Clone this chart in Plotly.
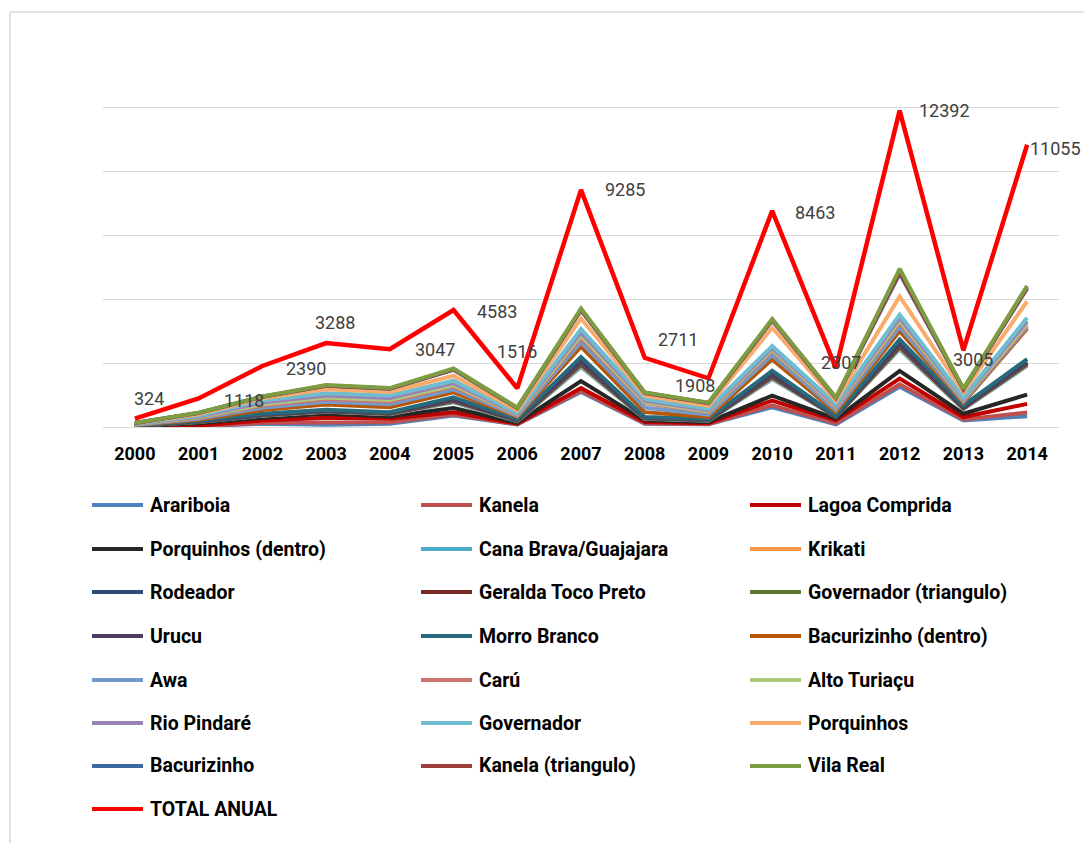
import plotly.graph_objects as go

# Years on the category axis
years = [str(y) for y in range(2000, 2015)]

# Series names, in stacking order (bottom to top)
names = [
    "Arariboia", "Kanela", "Lagoa Comprida",
    "Porquinhos (dentro)", "Cana Brava/Guajajara", "Krikati",
    "Rodeador", "Geralda Toco Preto", "Governador (triangulo)",
    "Urucu", "Morro Branco", "Bacurizinho (dentro)",
    "Awa", "Carú", "Alto Turiaçu",
    "Rio Pindaré", "Governador", "Porquinhos",
    "Bacurizinho", "Kanela (triangulo)", "Vila Real",
]

# Yearly values per area, 2000-2014
arariboia       = [20, 60, 250, 180, 260, 900, 200, 2750, 260, 210, 1550, 210, 3160, 520, 850]
kanela          = [6, 18, 75, 160, 117, 78, 18, 90, 39, 27, 156, 93, 192, 78, 288]
lagoa_comprida  = [14, 42, 175, 380, 273, 182, 42, 210, 91, 63, 364, 217, 448, 182, 672]
porquinhos_dentro = [30, 180, 220, 310, 180, 320, 70, 550, 130, 90, 390, 130, 600, 260, 730]
cana_brava      = [20, 100, 160, 170, 170, 460, 120, 1100, 130, 110, 1290, 150, 1690, 360, 2250]
krikati         = [3, 12, 22, 22, 24, 58, 25, 117, 20, 22, 98, 15, 115, 44, 78]
rodeador        = [2, 8, 15, 15, 16, 39, 17, 78, 13, 15, 65, 10, 77, 29, 52]
geralda         = [2, 8, 15, 15, 16, 39, 17, 78, 13, 15, 65, 10, 77, 29, 52]
governador_tri  = [2, 8, 15, 15, 16, 39, 17, 78, 13, 15, 65, 10, 77, 29, 52]
urucu           = [2, 8, 15, 15, 16, 39, 17, 78, 13, 15, 65, 10, 77, 29, 52]
morro_branco    = [9, 36, 68, 68, 72, 176, 77, 351, 58, 68, 292, 45, 347, 130, 234]
bacurizinho_dentro = [40, 90, 310, 410, 390, 390, 180, 820, 385, 130, 900, 265, 650, 210, 2390]
awa             = [20, 75, 170, 220, 225, 220, 75, 345, 350, 192, 330, 167, 325, 100, 100]
caru            = [20, 75, 170, 220, 225, 220, 75, 345, 350, 193, 330, 168, 325, 100, 100]
alto_turiacu    = [15, 45, 98, 110, 115, 116, 38, 170, 84, 65, 98, 78, 160, 58, 162]
rio_pindare     = [21, 63, 136, 154, 161, 163, 52, 238, 117, 91, 136, 108, 224, 80, 228]
governador      = [24, 72, 156, 176, 184, 186, 60, 272, 134, 104, 156, 124, 256, 92, 260]
porquinhos      = [40, 100, 180, 310, 290, 390, 200, 830, 250, 225, 1420, 240, 1430, 390, 1290]
bacurizinho     = [28, 98, 116, 280, 246, 472, 179, 652, 217, 214, 575, 213, 1795, 237, 1008]
kanela_tri      = [2, 6, 7, 17, 15, 28, 11, 39, 13, 13, 35, 13, 108, 14, 61]
vila_real       = [4, 14, 17, 41, 36, 68, 26, 94, 31, 31, 83, 31, 259, 34, 146]

total_anual = [324, 1118, 2390, 3288, 3047, 4583, 1516, 9285, 2711, 1908, 8463, 2307, 12392, 3005, 11055]

series = [
    arariboia, kanela, lagoa_comprida, porquinhos_dentro, cana_brava, krikati,
    rodeador, geralda, governador_tri, urucu, morro_branco, bacurizinho_dentro,
    awa, caru, alto_turiacu, rio_pindare, governador, porquinhos,
    bacurizinho, kanela_tri, vila_real,
]

colors = [
    "#4F81BD", "#C0504D", "#C00000", "#262626", "#4BACC6", "#F79646",
    "#2C4D75", "#772C2A", "#5F7530", "#4D3B62", "#276A7C", "#B65708",
    "#729ACA", "#CD7371", "#AFC97A", "#9983B5", "#6FBDD1", "#F9AB6B",
    "#3C6AA0", "#A03E3B", "#7D9D43",
]
total_color = "#FF0000"

fig = go.Figure()
for name, vals, col in zip(names, series, colors):
    fig.add_trace(go.Scatter(
        x=years, y=vals, name=name, mode="lines", stackgroup="s", fill="none",
        line=dict(color=col, width=4), showlegend=False,
    ))
fig.add_trace(go.Scatter(
    x=years, y=total_anual, name="TOTAL ANUAL", mode="lines", stackgroup="s",
    fill="none", line=dict(color=total_color, width=4.5), showlegend=False,
))

# Figure geometry (pixels)
W, H = 1084, 843
L_M, R_M, T_M, B_M = 103, 25, 104, 416
PW = W - L_M - R_M
PH = H - T_M - B_M
Y_TOP = 25300


def px_x(x):
    return (x - L_M) / PW


def px_y(y):
    return (H - B_M - y) / PH


# Data labels for the annual total, sitting on the top of the stack
label_offsets = [
    (14, 20), (45, -2), (44, -3), (9, 21), (45, 0), (43, -2), (0, 37), (44, 0),
    (33, 18), (-13, -7), (43, -2), (5, 6), (45, 0), (10, -9), (28, -4),
]
stack_top = [sum(s[i] for s in series) + total_anual[i] for i in range(len(years))]
annotations = []
for i in range(len(years)):
    dx, dy = label_offsets[i]
    annotations.append(dict(
        x=i, y=stack_top[i], xref="x", yref="y", text=str(total_anual[i]),
        showarrow=False, xshift=dx, yshift=dy,
        font=dict(family="Roboto, sans-serif", size=18, color="#404040"),
    ))

# Legend drawn as three columns below the plot
legend_names = names + ["TOTAL ANUAL"]
legend_colors = colors + [total_color]
col_x = [92, 421, 750]
row_y = [505, 549, 592, 636, 680, 723, 766, 809]
shapes = []
for i, (nm, col) in enumerate(zip(legend_names, legend_colors)):
    r, c = divmod(i, 3)
    x0 = col_x[c]
    y0 = row_y[r]
    shapes.append(dict(
        type="line", xref="paper", yref="paper",
        x0=px_x(x0), x1=px_x(x0 + 51), y0=px_y(y0), y1=px_y(y0),
        line=dict(color=col, width=4),
    ))
    annotations.append(dict(
        x=px_x(x0 + 56), y=px_y(y0), xref="paper", yref="paper",
        xanchor="left", yanchor="middle", text=nm, showarrow=False,
        font=dict(family="Roboto, sans-serif", size=19.5, color="#000000", weight="bold"),
    ))

# Chart frame
shapes.append(dict(
    type="rect", xref="paper", yref="paper",
    x0=px_x(10), x1=px_x(1100), y0=px_y(12), y1=px_y(860),
    line=dict(color="#D9D9D9", width=1.5), layer="below",
))

fig.update_layout(
    width=W, height=H,
    margin=dict(l=L_M, r=R_M, t=T_M, b=B_M),
    paper_bgcolor="white", plot_bgcolor="white",
    annotations=annotations, shapes=shapes,
    showlegend=False,
)
fig.update_xaxes(
    type="category", range=[-0.5, len(years) - 0.5],
    showgrid=False, showline=True, linecolor="#D9D9D9", linewidth=1,
    ticks="", ticklabelstandoff=10,
    tickfont=dict(family="Roboto, sans-serif", size=18, color="#000000", weight="bold"),
    fixedrange=True,
)
fig.update_yaxes(
    range=[0, Y_TOP], tickvals=[5000, 10000, 15000, 20000, 25000],
    showgrid=True, gridcolor="#D9D9D9", gridwidth=1,
    showticklabels=False, zeroline=False, fixedrange=True,
)

fig.write_html("out.html")
